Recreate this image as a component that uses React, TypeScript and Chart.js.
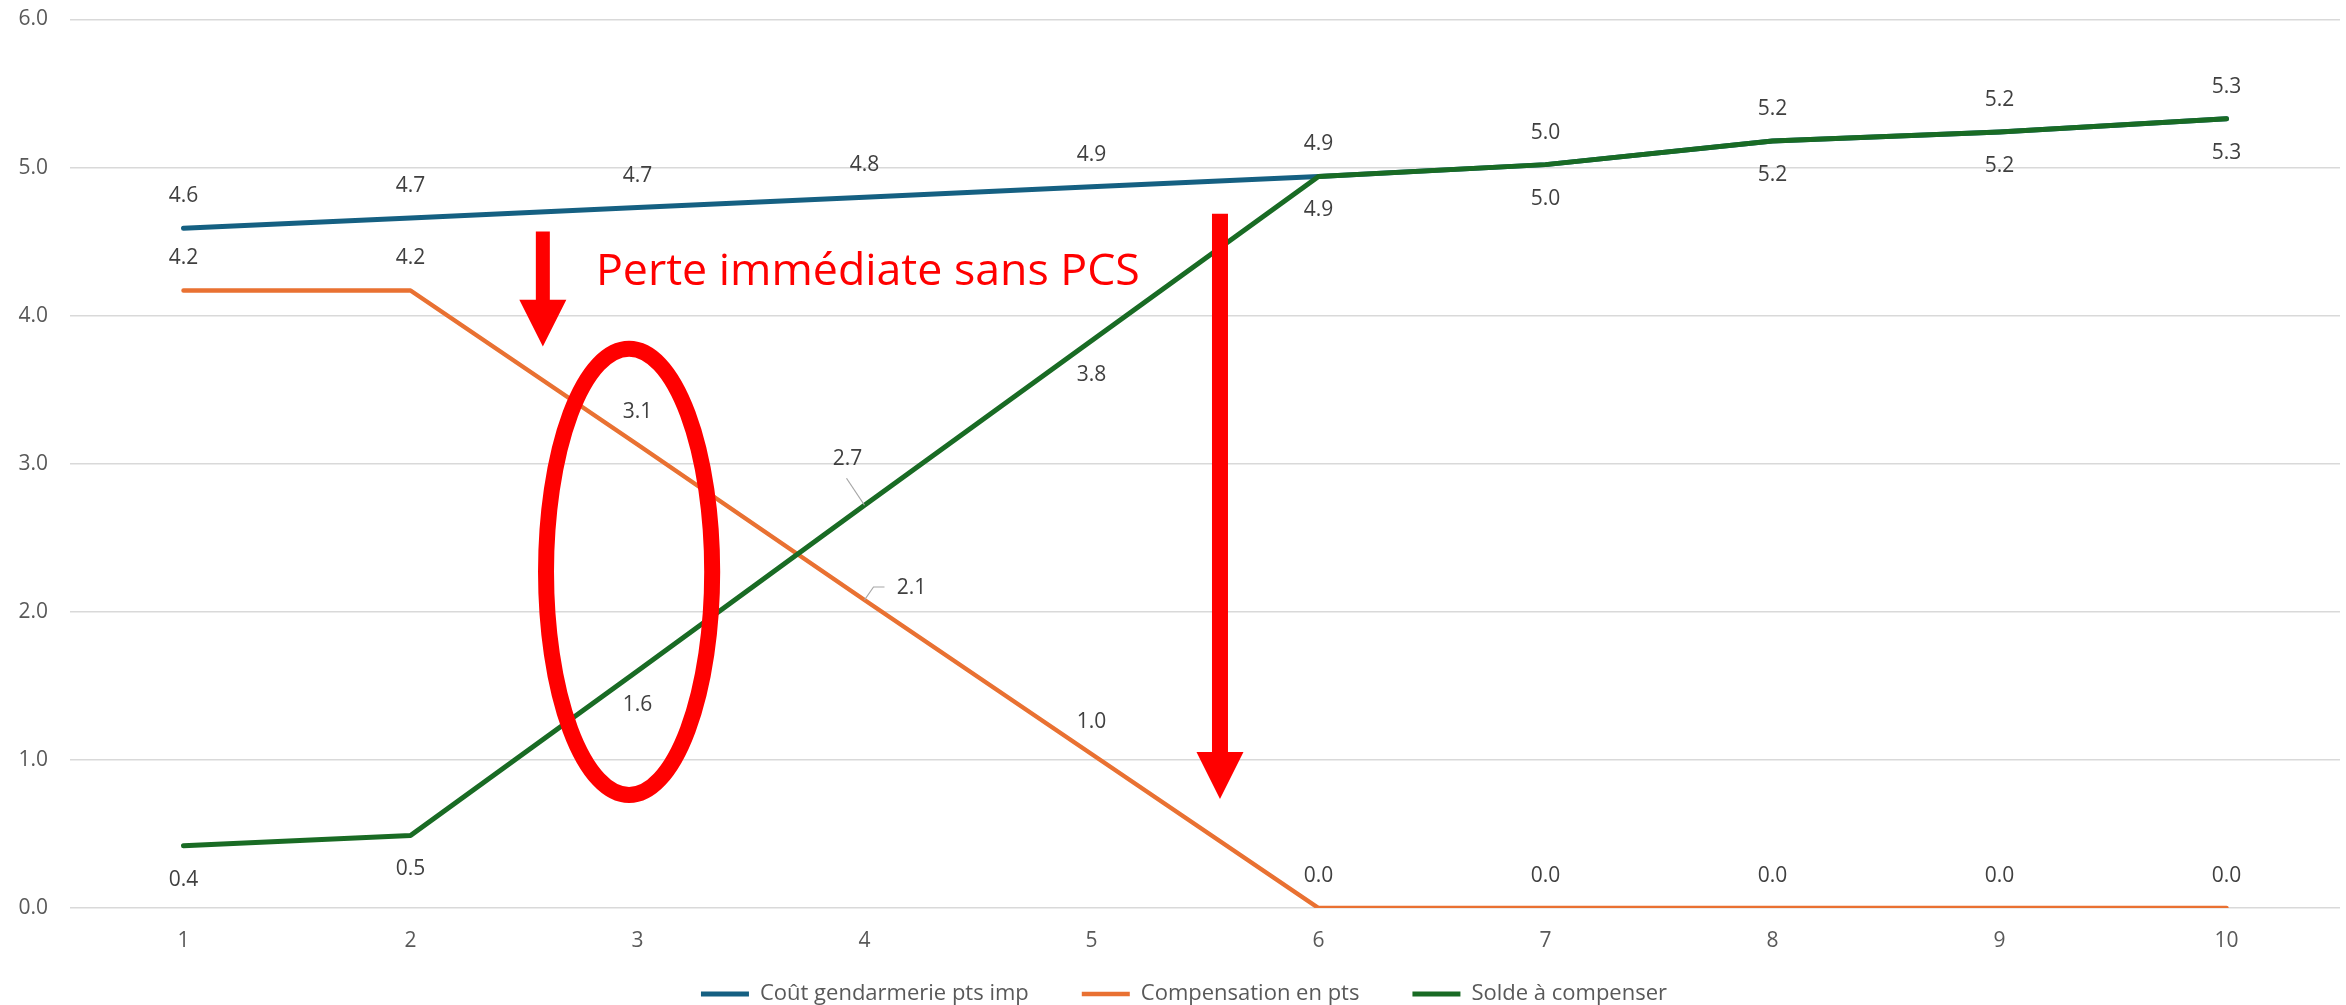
import { useEffect, useRef } from 'react';
import { Chart, registerables } from 'chart.js';

Chart.register(...registerables);

// ---- Data ----
const categories = ['1', '2', '3', '4', '5', '6', '7', '8', '9', '10'];
const seriesNames = ['Coût gendarmerie pts imp', 'Compensation en pts', 'Solde à compenser'];
const coutGendarmerie = [4.59, 4.66, 4.73, 4.8, 4.87, 4.94, 5.02, 5.18, 5.24, 5.33];
const compensation = [4.17, 4.17, 3.13, 2.08, 1.04, 0, 0, 0, 0, 0];
const soldeACompenser = [0.42, 0.49, 1.6, 2.72, 3.83, 4.94, 5.02, 5.18, 5.24, 5.33];
const yTickValues = [0, 1, 2, 3, 4, 5, 6];
const annotationText = 'Perte immédiate sans PCS';

// ---- Styles ----
const FONT = "'Open Sans', 'Liberation Sans', sans-serif";
const colors = ['#156082', '#E97132', '#196B24'];
const RED = '#FF0000';

// data-label placement per series (pixel offsets), with special cases
const labelOffsetY = [-32, -32, 34];
const labelExceptions: Record<string, { dx: number; dy: number; leader: number[][] }> = {
  '2-3': { dx: -17, dy: -46, leader: [[-18, -27], [0, 0]] },
  '1-3': { dx: 47, dy: -12, leader: [[20, -13], [9, -13], [0, 0]] },
};

// annotation overlay positions in data units (category index, value)
const arrows = [
  { x: 1.583, top: 4.568, base: 4.108, tip: 3.791, shaft: 14, head: 47 },
  { x: 4.566, top: 4.689, base: 1.054, tip: 0.736, shaft: 16, head: 47 },
];
const ellipse = { x: 1.963, y: 2.27, x1: 1.597, y1: 3.777, lineWidth: 16 };
const textAnno = { x: 1.817, y: 4.209, widthTo: 4.213, size: 43 };

// legend placement tweak (pixels)
const legendShift = { dx: 14, dy: -26 };

const dataLabelPlugin = {
  id: 'dataLabels',
  afterDatasetsDraw(chart: any) {
    const ctx = chart.ctx;
    ctx.save();
    ctx.font = `21px ${FONT}`;
    ctx.fillStyle = '#404040';
    ctx.textAlign = 'center';
    ctx.textBaseline = 'middle';
    chart.data.datasets.forEach((ds: any, i: number) => {
      const meta = chart.getDatasetMeta(i);
      meta.data.forEach((pt: any, j: number) => {
        const v = ds.data[j] as number;
        const ex = labelExceptions[`${i}-${j}`];
        let lx = pt.x;
        let ly = pt.y + labelOffsetY[i];
        if (ex) {
          lx = pt.x + ex.dx;
          ly = pt.y + ex.dy;
          ctx.save();
          ctx.strokeStyle = '#A6A6A6';
          ctx.lineWidth = 1.2;
          ctx.beginPath();
          ex.leader.forEach((p, k) => {
            const px = pt.x + p[0];
            const py = pt.y + p[1];
            if (k === 0) ctx.moveTo(px, py);
            else ctx.lineTo(px, py);
          });
          ctx.stroke();
          ctx.restore();
        }
        ctx.fillText(v.toFixed(1), lx, ly);
      });
    });
    ctx.restore();
  },
};

const annotationPlugin = {
  id: 'redAnnotations',
  afterDraw(chart: any) {
    const ctx = chart.ctx;
    const xs = chart.scales.x;
    const ys = chart.scales.y;
    ctx.save();
    ctx.fillStyle = RED;
    ctx.strokeStyle = RED;
    arrows.forEach((a) => {
      const cx = xs.getPixelForValue(a.x);
      const top = ys.getPixelForValue(a.top);
      const base = ys.getPixelForValue(a.base);
      const tip = ys.getPixelForValue(a.tip);
      ctx.beginPath();
      ctx.moveTo(cx - a.shaft / 2, top);
      ctx.lineTo(cx - a.shaft / 2, base);
      ctx.lineTo(cx - a.head / 2, base);
      ctx.lineTo(cx, tip);
      ctx.lineTo(cx + a.head / 2, base);
      ctx.lineTo(cx + a.shaft / 2, base);
      ctx.lineTo(cx + a.shaft / 2, top);
      ctx.closePath();
      ctx.fill();
    });
    const ecx = xs.getPixelForValue(ellipse.x);
    const ecy = ys.getPixelForValue(ellipse.y);
    const erx = Math.abs(ecx - xs.getPixelForValue(ellipse.x1));
    const ery = Math.abs(ecy - ys.getPixelForValue(ellipse.y1));
    ctx.lineWidth = ellipse.lineWidth;
    ctx.beginPath();
    ctx.ellipse(ecx, ecy, erx, ery, 0, 0, Math.PI * 2);
    ctx.stroke();
    const tx = xs.getPixelForValue(textAnno.x);
    const ty = ys.getPixelForValue(textAnno.y);
    const targetW = xs.getPixelForValue(textAnno.widthTo) - tx;
    ctx.font = `${textAnno.size}px ${FONT}`;
    ctx.textAlign = 'left';
    ctx.textBaseline = 'alphabetic';
    const w = ctx.measureText(annotationText).width;
    ctx.translate(tx, ty);
    ctx.scale(targetW / w, 1);
    ctx.fillText(annotationText, 0, 0);
    ctx.restore();
  },
};

const legendShiftPlugin = {
  id: 'legendShift',
  afterLayout(chart: any) {
    const lg = chart.legend;
    if (!lg) return;
    lg.top += legendShift.dy;
    lg.left += legendShift.dx;
    lg.right += legendShift.dx;
  },
};

export default function App() {
  const canvasRef = useRef<HTMLCanvasElement>(null);

  useEffect(() => {
    if (!canvasRef.current) return;
    const seriesData = [coutGendarmerie, compensation, soldeACompenser];
    const chart = new Chart(canvasRef.current, {
      type: 'line',
      data: {
        labels: categories,
        datasets: seriesData.map((d, i) => ({
          label: seriesNames[i],
          data: d,
          borderColor: colors[i],
          backgroundColor: colors[i],
          borderWidth: i === 1 ? 4.5 : 5,
          borderCapStyle: 'round' as const,
          borderJoinStyle: 'round' as const,
          pointRadius: 0,
          pointHoverRadius: 0,
          tension: 0,
          fill: false,
          order: 3 - i,
        })),
      },
      options: {
        responsive: false,
        maintainAspectRatio: false,
        animation: false,
        events: [],
        layout: { padding: { top: 19.5, right: 6, left: 0, bottom: 0 } },
        scales: {
          x: {
            type: 'category',
            offset: true,
            grid: { display: false, drawTicks: false },
            border: { display: false },
            ticks: { color: '#595959', font: { family: FONT, size: 21 }, padding: 20 },
            afterFit: (s: any) => {
              s.height = 48;
            },
          },
          y: {
            min: 0,
            max: 6,
            afterBuildTicks: (s: any) => {
              s.ticks = yTickValues.map((v) => ({ value: v }));
            },
            ticks: {
              color: '#595959',
              font: { family: FONT, size: 21 },
              padding: 22,
              callback: (v: any) => Number(v).toFixed(1),
            },
            grid: { color: '#D9D9D9', lineWidth: 1.5, drawTicks: false },
            border: { display: false },
            afterFit: (s: any) => {
              s.width = 70;
              s.paddingTop = 0;
              s.paddingBottom = 0;
            },
          },
        },
        plugins: {
          legend: {
            position: 'bottom',
            maxHeight: 49,
            labels: {
              usePointStyle: true,
              pointStyle: 'line',
              pointStyleWidth: 48,
              boxHeight: 6,
              padding: 53,
              color: '#595959',
              font: { family: FONT, size: 22 },
              sort: (a: any, b: any) => a.datasetIndex - b.datasetIndex,
            },
          },
          tooltip: { enabled: false },
        },
      },
      plugins: [dataLabelPlugin, annotationPlugin, legendShiftPlugin],
    });
    return () => chart.destroy();
  }, []);

  return (
    <div style={{ position: 'fixed', left: 0, top: 0, width: 2346, height: 1005, background: '#fff' }}>
      <canvas ref={canvasRef} width={2346} height={1005} style={{ width: 2346, height: 1005 }} />
    </div>
  );
}
